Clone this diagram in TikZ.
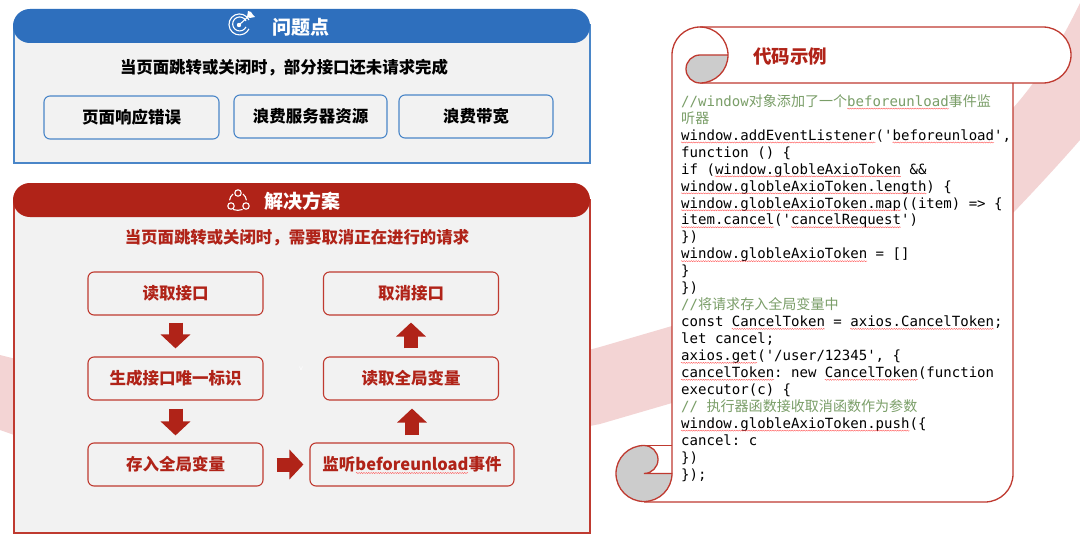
\documentclass[tikz,border=0pt]{standalone}
\usepackage{fontspec}
\usetikzlibrary{arrows.meta,decorations.pathmorphing}
\newfontfamily\cjk{Noto Sans CJK SC}
\newfontfamily\codefont{DejaVu Sans Mono}
\definecolor{ink}{HTML}{2E6FBD}
\definecolor{inkline}{HTML}{4A86C8}
\definecolor{brick}{HTML}{B02318}
\definecolor{brickline}{HTML}{BF3A30}
\definecolor{leaf}{HTML}{7A9E68}
\definecolor{blush}{HTML}{F3D4D4}
\definecolor{panelgray}{HTML}{F2F2F2}
\definecolor{rollgray}{HTML}{CCCCCC}
\tikzset{bluebox/.style={draw=inkline,fill=panelgray,line width=1.1pt,rounded corners=6pt,font=\cjk\fontsize{16.5}{18}\selectfont\bfseries,text=black,inner sep=0pt},
redbox/.style={draw=brickline,fill=panelgray,line width=1.1pt,rounded corners=6pt,font=\cjk\fontsize{16.5}{18}\selectfont\bfseries,text=brick,inner sep=0pt,minimum width=175pt,minimum height=43pt},
headline/.style={font=\cjk\fontsize{19}{21}\selectfont\bfseries,text=white,inner sep=0pt},
sentence/.style={font=\cjk\fontsize{16.4}{18}\selectfont\bfseries,inner sep=0pt},
blockarrow/.style={brick,line width=14pt,-{Triangle[length=14pt,width=29pt]}},
codeline/.style={anchor=base west,inner sep=0pt,font=\codefont\fontsize{14.05}{16}\selectfont\frenchspacing},
squiggle/.style={draw=red!70!white,line width=.35pt,decorate,decoration={snake,amplitude=.55pt,segment length=2.4pt}},
scrollline/.style={draw=brickline,line width=1.3pt},
iconline/.style={draw=white,line width=1.1pt}}
\newcommand{\codeat}[2]{\node[codeline] (line#1) at (681,{-106.3-16.95*#1}) {#2};}
\newcommand{\squig}[3]{\draw[squiggle] ({681+8.46*#2},{-108.6-16.95*#1}) -- ({681+8.46*#3},{-108.6-16.95*#1});}
\begin{document}
\begin{tikzpicture}[x=1pt,y=1pt]
\useasboundingbox (0,0) rectangle (1080,-543);
\fill[white] (0,0) rectangle (1080,-543);
\fill[blush] (0,-355) -- (20,-360) .. controls (200,-395) and (420,-395) .. (600,-347) -- (672,-326) .. controls (800,-285) and (930,-200) .. (1013,-108) .. controls (1040,-78) and (1062,-40) .. (1080,-3) -- (1080,-140) .. controls (1060,-163) and (1035,-190) .. (1013,-213) .. controls (900,-310) and (800,-365) .. (672,-403) -- (600,-424) .. controls (420,-460) and (200,-460) .. (20,-437) -- (0,-430) -- cycle;
\draw[draw=inkline,fill=panelgray,line width=2pt] (13.5,-25) rectangle (590,-162.5);
\fill[ink,rounded corners=16.9pt] (13,-9) rectangle (590,-43);
\draw[iconline] (249,-20) arc (25:335:10.5);
\draw[iconline] (246,-21) arc (25:335:7);
\fill[white] (239,-25) circle (2.2);
\draw[iconline] (239,-25) -- (250,-15);
\fill[white] (247,-17) -- (248,-11) -- (251,-12) -- (253,-15) -- (255,-17) -- (250,-18) -- cycle;
\node[headline] (issuetitle) at (301,-27) {问题点};
\node[sentence,text=black] (issuetext) at (284,-68) {当页面跳转或关闭时，部分接口还未请求完成};
\node[bluebox,minimum width=175pt,minimum height=43pt] (errorbox) at (131.5,-117.5) {页面响应错误};
\node[bluebox,minimum width=153pt,minimum height=43pt] (serverbox) at (310.5,-116.5) {浪费服务器资源};
\node[bluebox,minimum width=154pt,minimum height=43pt] (bandbox) at (476,-116.5) {浪费带宽};
\draw[draw=brickline,fill=panelgray,line width=2pt] (13.5,-200) rectangle (590,-533);
\fill[brick,rounded corners=16.9pt] (13,-183) rectangle (590,-217);
\draw[iconline] (238,-193) circle (3.2);
\draw[iconline] (231,-206) circle (3.2);
\draw[iconline] (246,-206) circle (3.2);
\draw[iconline] (233,-194) arc (130:172:10);
\draw[iconline] (243,-194) arc (50:8:10);
\draw[iconline] (233,-209.5) arc (250:290:14);
\node[headline] (plantitle) at (302,-201) {解决方案};
\node[sentence,text=brick] (plantext) at (297,-238) {当页面跳转或关闭时，需要取消正在进行的请求};
\node[redbox] (readapi) at (175.5,-293.5) {读取接口};
\node[redbox] (makeid) at (175.5,-378.5) {生成接口唯一标识};
\node[redbox] (saveglobal) at (175.5,-464.5) {存入全局变量};
\node[redbox] (cancelapi) at (411,-293.5) {取消接口};
\node[redbox] (readglobal) at (411,-378.5) {读取全局变量};
\node[redbox,minimum width=204pt] (listen) at (412,-464.5) {监听beforeunload事件};
\node[font=\sffamily\fontsize{8}{9}\selectfont,text=white,inner sep=0pt] (faintv) at (301,-369) {v};
\draw[squiggle] (356,-473) -- (468,-473);
\draw[blockarrow,shorten <=7pt,shorten >=8pt] (readapi) -- (makeid);
\draw[blockarrow,shorten <=8pt,shorten >=7pt] (makeid) -- (saveglobal);
\draw[blockarrow,shorten <=13pt,shorten >=6pt] (saveglobal) -- (listen);
\draw[blockarrow,shorten <=7pt,shorten >=8pt] (listen.north) -- (listen.north |- readglobal.south);
\draw[blockarrow,shorten <=8pt,shorten >=7pt] (readglobal) -- (cancelapi);
\fill[white] (672,-55) arc (180:90:28) -- (1043,-27) arc (90:-90:28) -- (1013,-83) -- (1013,-474) arc (0:-90:28) -- (644,-502) -- (672,-474) -- cycle;
\draw[scrollline] (672,-474) -- (672,-55) arc (180:90:28) -- (1043,-27) arc (90:-90:28) -- (700,-83);
\draw[scrollline] (1013,-83) -- (1013,-474) arc (0:-90:28) -- (644,-502);
\draw[scrollline,fill=rollgray] (728,-55) -- (700,-55) arc (90:270:14) arc (270:360:28);
\draw[scrollline] (700,-27) arc (90:0:28);
\draw[scrollline] (644,-445.5) -- (672,-445.5);
\draw[scrollline,fill=rollgray] (672,-473.5) -- (644,-473.5) arc (-90:90:14) arc (90:270:28) arc (270:360:28);
\node[font=\cjk\fontsize{18.5}{20}\selectfont\bfseries,text=brick,inner sep=0pt] (codetitle) at (790,-56) {代码示例};
\codeat{0}{\textcolor{leaf}{//window{\cjk 对象添加了一个}beforeunload{\cjk 事件监}}}
\codeat{1}{\textcolor{leaf}{\cjk 听器}}
\codeat{2}{window.addEventListener('beforeunload',}
\codeat{3}{function () \{}
\codeat{4}{if (window.globleAxioToken \&\&}
\codeat{5}{window.globleAxioToken.length) \{}
\codeat{6}{window.globleAxioToken.map((item) => \{}
\codeat{7}{item.cancel('cancelRequest')}
\codeat{8}{\})}
\codeat{9}{window.globleAxioToken = []}
\codeat{10}{\}}
\codeat{11}{\})}
\codeat{12}{\textcolor{leaf}{//{\cjk 将请求存入全局变量中}}}
\codeat{13}{const CancelToken = axios.CancelToken;}
\codeat{14}{let cancel;}
\codeat{15}{axios.get('/user/12345', \{}
\codeat{16}{cancelToken: new CancelToken(function}
\codeat{17}{executor(c) \{}
\codeat{18}{\textcolor{leaf}{// {\cjk 执行器函数接收取消函数作为参数}}}
\codeat{19}{window.globleAxioToken.push(\{}
\codeat{20}{cancel: c}
\codeat{21}{\})}
\codeat{22}{\});}
\squig{0}{19.64}{31.64}
\squig{2}{0}{23}
\squig{2}{25}{37}
\squig{4}{4}{26}
\squig{5}{0}{29}
\squig{6}{0}{26}
\squig{7}{0}{11}
\squig{7}{13}{26}
\squig{9}{0}{22}
\squig{13}{6}{17}
\squig{13}{20}{37}
\squig{15}{0}{9}
\squig{16}{0}{11}
\squig{16}{17}{28}
\squig{19}{0}{27}
\end{tikzpicture}
\end{document}
